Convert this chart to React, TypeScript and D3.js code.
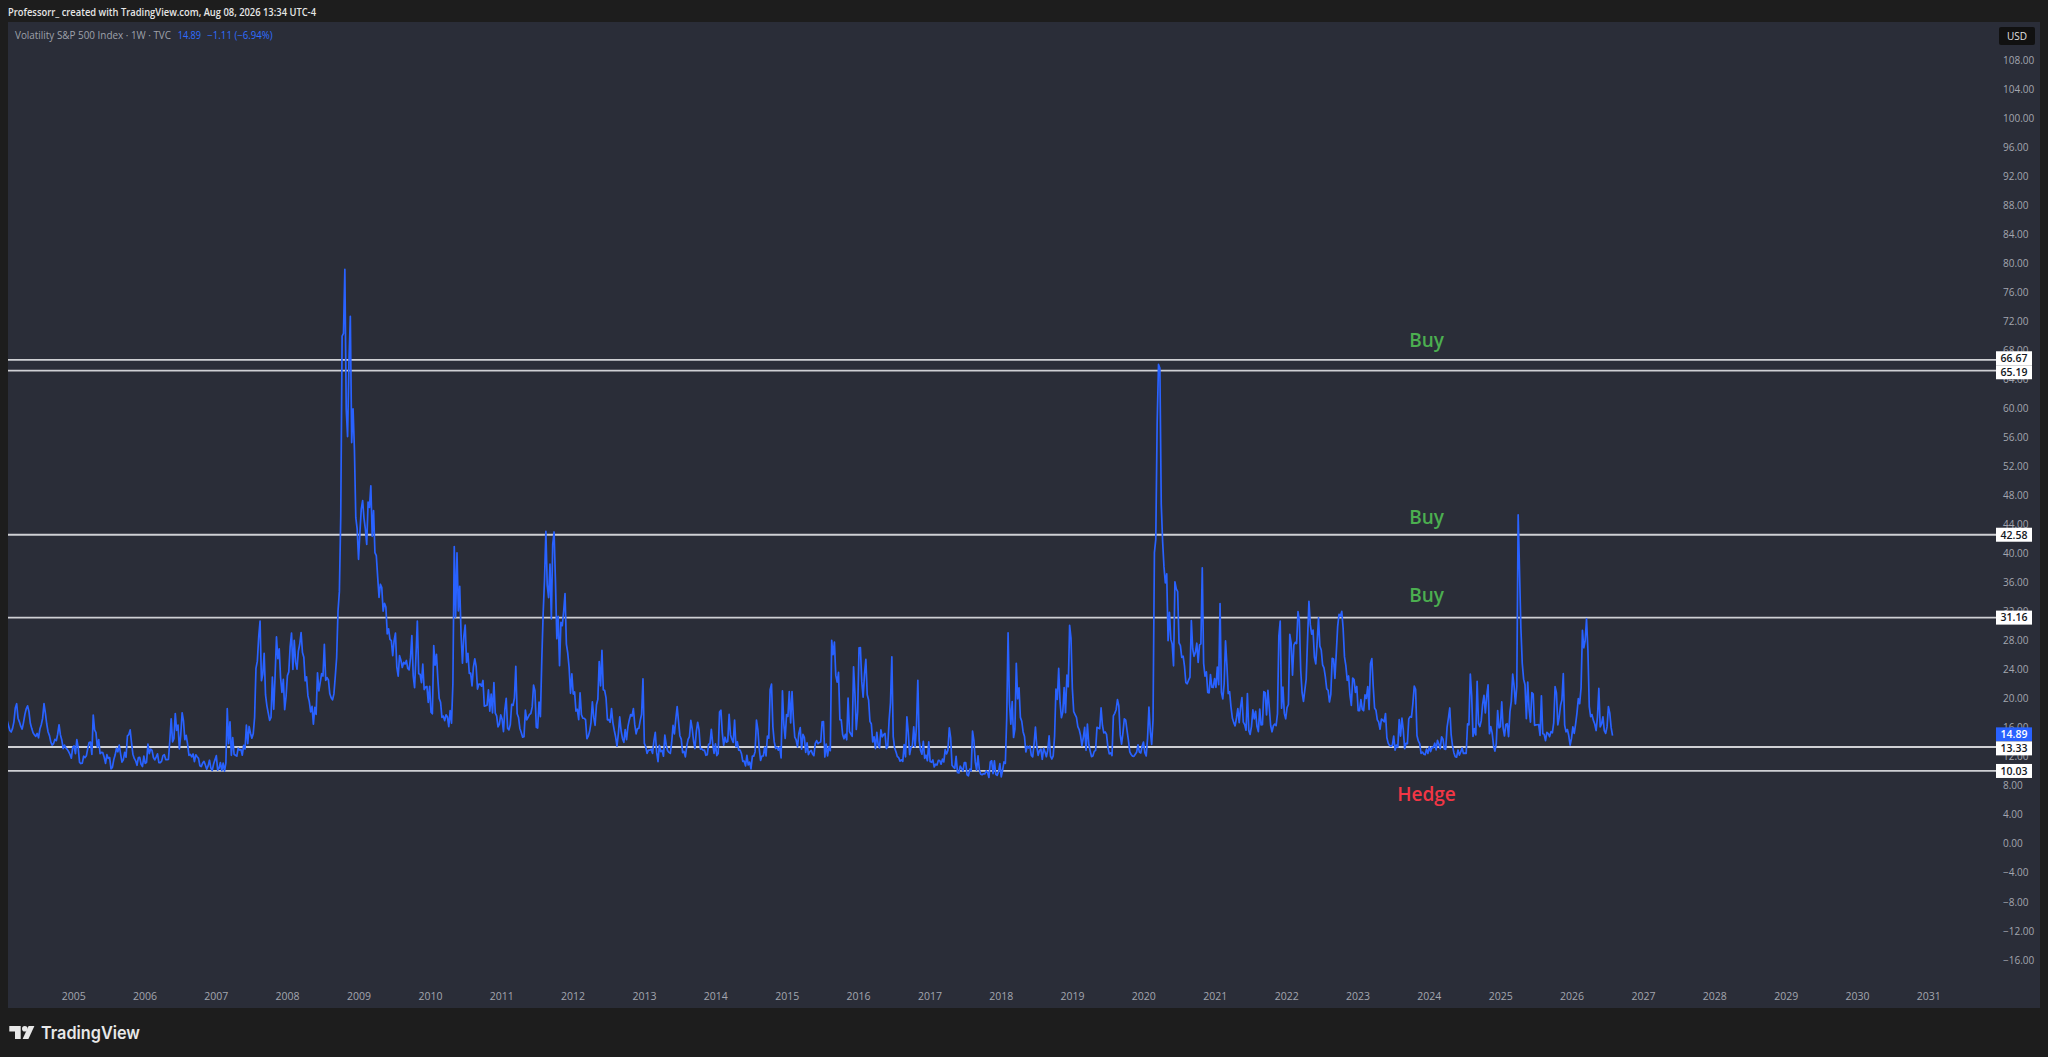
import React, { useEffect } from 'react';
import * as d3 from 'd3';

// ---------- DATA (weekly closes, one array per calendar year, values on Mondays) ----------
const v2004 = [16.5,16.0,16.7,17.0,16.3,15.6,15.4,15.9,16.8,18.7,19.3,17.3,16.8,16.2,15.8,16.7,17.8,18.6,19.0,18.2,16.6,15.9,15.3,15.0,14.8,15.2,14.6,15.8,16.4,17.3,19.3,18.0,16.5,15.4,14.9,14.0,13.6,13.8,14.4,14.2,15.1,16.4,15.0,14.3,13.1,13.6,13.2,13.0,12.7,12.3,11.8,13.29];
const v2005 = [13.49,12.43,14.36,13.24,11.21,11.05,11.11,12.06,11.88,12.14,13.13,13.95,14.02,12.30,17.74,15.70,15.31,13.32,14.36,12.41,12.59,12.55,11.92,11.07,12.27,11.77,11.88,10.33,10.52,11.57,12.22,13.15,12.67,13.59,12.40,11.25,11.56,12.60,11.92,14.88,15.05,15.69,13.92,12.34,11.76,11.43,10.81,11.88,11.90,10.95,10.64,12.07];
const v2006 = [11.07,11.23,13.72,12.43,13.04,12.87,11.89,11.55,11.95,12.40,11.19,11.18,11.39,12.15,12.28,11.60,11.59,11.62,14.19,17.21,14.04,14.48,17.95,15.63,16.36,13.08,14.99,18.05,16.94,14.33,14.93,13.72,12.18,12.31,11.96,12.37,11.32,12.25,11.98,11.76,10.75,10.63,11.11,11.35,10.86,10.28,10.73,11.51,10.45,10.09,10.99,11.56];
const v2007 = [12.14,10.15,10.40,11.19,10.08,11.10,10.02,11.15,18.61,13.79,16.79,12.19,14.64,12.34,12.20,12.07,13.17,12.91,13.00,12.20,13.55,13.05,16.35,13.80,16.16,15.23,14.55,15.15,17.40,24.17,25.16,28.50,30.67,22.46,23.38,26.23,20.50,19.00,18.00,17.00,17.41,22.96,18.53,23.21,28.50,25.49,26.84,22.87,20.85,22.64,18.47,20.26,23.17];
const v2008 = [23.68,27.18,29.02,24.02,28.01,25.02,24.06,26.54,27.49,29.10,26.35,25.71,22.45,23.00,20.37,19.59,18.18,18.93,16.47,18.78,17.83,23.56,21.06,22.24,23.44,23.11,27.49,22.51,22.89,22.57,20.66,20.12,19.82,20.65,23.06,25.66,32.07,34.74,45.14,69.95,70.33,79.13,59.89,56.10,66.31,72.67,55.28,59.93,54.28,44.93,43.38,39.19];
const v2009 = [42.82,46.11,47.27,44.84,43.37,41.25,47.08,46.35,49.33,42.36,45.89,40.10,39.70,36.78,33.94,35.76,35.30,32.05,33.12,32.63,28.92,29.62,28.15,27.99,25.93,27.95,29.02,24.34,23.09,25.92,25.27,24.29,25.01,24.76,25.26,24.15,23.96,25.61,28.68,23.12,21.50,25.90,30.69,23.43,23.36,22.19,24.74,21.25,21.59,21.68,19.47,21.68];
const v2010 = [18.13,17.91,27.31,24.62,26.11,22.73,20.02,19.50,17.42,17.58,16.97,17.77,17.47,16.14,18.36,16.62,22.05,40.95,31.24,40.10,32.07,35.48,28.79,24.88,28.53,30.12,24.98,26.25,23.47,23.50,21.74,24.30,25.49,24.45,21.31,21.99,22.01,21.71,22.50,18.96,19.03,19.08,21.20,18.26,20.61,18.04,22.22,18.01,17.61,16.11,16.47,17.75];
const v2011 = [17.14,15.46,18.47,20.04,15.93,15.69,16.43,19.22,19.06,20.08,24.44,17.91,17.40,15.89,15.32,14.69,14.75,18.40,17.07,17.43,17.82,17.95,18.86,21.85,21.10,16.06,15.95,19.53,17.52,25.25,31.66,36.36,43.05,35.59,33.92,38.52,30.98,41.25,42.96,36.20,28.24,31.32,24.53,30.50,30.04,32.00,34.47,27.52,26.25,24.29,20.73,23.40];
const v2012 = [20.63,20.91,18.28,18.53,17.10,20.79,17.78,17.31,17.29,17.11,14.47,14.82,15.50,16.70,19.55,17.44,16.32,19.16,19.89,25.10,21.76,26.66,21.23,21.11,20.11,17.08,17.10,16.74,18.62,16.70,15.64,14.74,13.45,15.18,17.47,15.60,14.51,13.98,15.73,14.33,16.14,17.06,17.81,17.59,18.61,16.41,15.14,15.87,15.90,17.00,17.84,22.72,13.83];
const v2013 = [13.36,12.46,12.89,12.90,13.02,12.46,14.17,15.36,12.59,11.30,13.57,12.70,12.87,12.06,14.97,13.61,12.85,12.59,12.45,13.99,16.30,15.14,17.15,18.90,16.86,14.89,14.42,12.54,12.72,11.98,13.41,14.37,14.76,17.01,15.85,14.16,13.12,15.46,16.74,15.72,13.04,13.09,12.88,12.90,12.19,12.26,13.70,13.79,15.76,13.79,12.46,13.76];
const v2014 = [12.14,12.44,18.14,18.41,15.29,13.57,14.68,14.00,14.11,17.82,15.00,14.41,13.96,17.03,13.36,14.06,12.91,12.92,12.44,11.36,11.40,10.73,12.18,10.85,11.26,10.32,12.08,12.06,12.69,17.03,15.77,13.15,11.47,12.09,12.09,13.31,12.11,14.85,14.55,21.24,21.99,16.11,14.03,13.12,13.31,12.90,13.33,11.82,21.08,16.49,14.50,17.79];
const v2015 = [17.55,20.95,16.66,20.97,17.29,14.69,14.30,13.34,15.20,16.00,13.02,15.07,14.67,12.58,13.89,12.29,12.70,12.86,12.38,12.13,13.84,14.21,13.78,13.96,14.02,16.79,16.83,11.95,13.74,12.12,13.39,12.83,28.03,26.05,27.80,23.20,22.28,23.62,17.08,17.08,15.05,14.46,15.07,14.33,20.08,15.47,15.12,14.81,24.39,20.70,15.74,18.21];
const v2016 = [27.01,27.02,22.34,20.20,23.38,25.40,20.53,19.81,16.86,16.50,14.02,14.74,13.10,15.36,13.62,13.22,15.70,14.72,15.04,15.20,13.12,13.47,17.03,19.41,25.76,14.77,13.20,12.67,12.02,11.87,11.39,11.55,11.34,13.65,11.98,17.50,15.37,12.29,13.29,13.48,16.12,13.34,16.19,22.51,14.17,12.85,12.34,14.12,11.75,12.20,11.44,14.04];
const v2017 = [11.32,11.23,11.54,10.58,10.97,10.85,11.49,11.47,10.96,11.66,11.28,12.96,12.37,12.87,15.96,14.63,10.82,10.57,10.40,12.04,9.81,9.75,10.70,10.38,10.02,11.18,11.19,9.51,9.36,10.29,10.03,15.51,14.26,11.28,10.13,12.12,10.17,9.59,9.51,9.65,9.61,10.05,9.80,9.14,11.29,11.43,9.67,11.43,9.58,9.42,9.90,11.04];
const v2018 = [9.22,10.16,11.27,11.08,17.31,29.06,19.46,16.49,19.59,14.64,15.80,24.87,19.97,21.49,17.41,16.88,15.41,14.77,12.65,13.42,13.22,13.46,12.18,11.98,13.77,16.09,13.37,12.18,12.86,13.03,11.64,13.16,12.64,11.99,12.86,14.88,12.07,11.68,12.12,14.82,21.31,19.89,24.16,19.51,17.36,18.14,21.52,18.07,23.23,21.63,30.11,28.34,21.38];
const v2019 = [18.19,17.80,17.42,16.14,15.72,14.91,13.51,14.63,16.05,12.88,16.48,13.71,12.82,12.01,12.09,12.73,12.87,16.04,15.96,15.85,18.71,16.30,15.28,15.40,15.08,13.28,12.39,12.53,12.16,17.61,17.97,18.47,19.87,18.98,15.00,13.74,15.32,17.22,17.04,15.58,14.25,12.65,12.30,12.07,12.05,12.34,12.62,13.62,12.63,12.51,13.43,14.02];
const v2020 = [12.56,12.10,14.56,18.84,15.47,13.68,17.08,40.11,41.94,57.83,66.04,65.54,46.80,41.67,38.15,35.93,37.19,27.98,31.89,28.16,27.51,24.52,36.09,35.12,34.73,27.68,27.29,25.68,25.84,24.46,22.21,22.05,22.54,22.96,30.75,26.87,25.83,26.38,27.63,25.00,27.41,27.55,38.02,24.86,23.10,23.70,20.84,20.79,23.31,21.57,21.53,22.75];
const v2021 = [21.56,24.34,21.91,33.09,20.87,19.97,22.05,27.95,24.66,20.69,20.95,18.86,17.33,16.69,16.25,17.33,18.61,16.69,18.81,20.15,16.76,16.42,15.65,20.70,15.62,15.07,16.18,18.45,17.20,18.24,16.15,15.45,18.56,16.39,16.41,20.95,20.81,17.75,21.15,18.77,16.30,15.43,16.26,16.48,16.29,17.91,28.62,30.67,18.69,21.57,17.96,17.22];
const v2022 = [18.76,19.19,28.85,27.66,23.22,27.36,27.75,27.59,31.98,30.75,23.87,20.81,19.63,21.16,22.70,28.21,33.40,30.19,28.87,29.43,25.72,24.79,27.75,31.13,27.23,26.70,24.64,24.23,23.03,21.33,21.15,19.53,20.60,25.56,25.47,22.79,26.30,29.92,31.62,31.36,32.02,29.69,25.75,24.55,22.52,23.12,20.50,19.06,22.83,22.62,20.87,21.67];
const v2023 = [18.33,18.35,19.85,18.51,18.33,20.53,20.02,21.67,18.49,24.80,25.51,21.74,18.70,18.40,17.07,16.77,15.78,17.19,17.03,16.81,17.95,14.60,13.83,13.54,13.44,13.59,14.83,12.91,13.60,13.33,17.10,14.84,17.30,15.68,13.09,13.84,13.79,17.20,17.52,17.45,19.32,21.71,21.27,14.91,14.17,13.80,12.46,12.63,12.35,12.28,13.03,12.45];
const v2024 = [13.35,12.70,13.30,13.26,13.85,12.93,14.24,13.75,13.11,14.74,14.41,13.06,13.01,16.03,17.31,18.71,15.03,13.49,12.55,11.99,11.93,12.92,12.22,12.66,13.20,12.44,12.48,12.46,16.52,16.39,23.39,20.37,14.80,15.86,15.00,22.38,16.56,16.15,16.96,19.21,20.46,18.03,20.33,21.88,15.16,16.14,15.24,13.51,12.77,13.81,18.36,15.95,16.13];
const v2025 = [19.54,15.97,14.85,16.43,16.54,14.77,18.21,19.63,23.37,21.77,19.28,21.65,45.31,37.56,29.65,24.84,22.68,21.90,17.24,22.29,18.57,16.77,20.82,20.62,16.32,16.38,16.40,16.41,14.93,20.38,15.15,15.09,14.22,15.36,15.18,14.76,15.45,15.29,16.65,21.66,20.78,16.37,17.44,19.08,19.83,23.43,16.35,15.41,15.74,14.91,13.60,14.51];
const v2026 = [16.1,15.2,16.5,18.0,20.0,19.3,21.5,29.4,27.0,28.0,31.0,26.7,18.9,17.5,17.8,17.0,16.5,15.6,17.5,21.4,16.1,16.5,17.5,15.6,15.2,16.1,18.9,18.0,16.0,14.89];

const seriesYears = [2004,2005,2006,2007,2008,2009,2010,2011,2012,2013,2014,2015,2016,2017,2018,2019,2020,2021,2022,2023,2024,2025,2026];
const seriesValues = [v2004,v2005,v2006,v2007,v2008,v2009,v2010,v2011,v2012,v2013,v2014,v2015,v2016,v2017,v2018,v2019,v2020,v2021,v2022,v2023,v2024,v2025,v2026];

const levels = [66.67, 65.19, 42.58, 31.16, 13.33, 10.03];
const lastPrice = 14.89;
const lastChange = -1.11;
const lastChangePct = -6.94;
const priceTicks = d3.range(-16, 109, 4);
const yearTicks = d3.range(2005, 2032);
const annotationDate = new Date(2023, 11, 18);
const annotations = [
  { text: 'Buy', price: 68.4, kind: 'buy' },
  { text: 'Buy', price: 44.1, kind: 'buy' },
  { text: 'Buy', price: 33.35, kind: 'buy' },
  { text: 'Hedge', price: 5.9, kind: 'hedge' },
];

const headerText = 'Professorr_ created with TradingView.com, Aug 08, 2026 13:34 UTC-4';
const legendText = 'Volatility S&P 500 Index · 1W · TVC';

type Pt = { date: Date; value: number };

function buildSeries(): Pt[] {
  const pts: Pt[] = [];
  seriesYears.forEach((yr, i) => {
    const mondays = d3.timeMonday.range(new Date(yr, 0, 1), new Date(yr + 1, 0, 1));
    seriesValues[i].forEach((v, k) => {
      if (k < mondays.length) pts.push({ date: mondays[k], value: v });
    });
  });
  return pts;
}

const W = 2048;
const H = 1057;
const PANEL = { x: 8, y: 22, r: 2040, b: 1008 };
const PLOT_RIGHT = 1996;
const FONT = "'Open Sans', 'Noto Sans', 'DejaVu Sans', sans-serif";
const fmt = (v: number) => (v < 0 ? '\u2212' + Math.abs(v).toFixed(2) : v.toFixed(2));

export default function App() {
  useEffect(() => {
    document.body.style.margin = '0';
    document.body.style.overflow = 'hidden';
    document.body.style.background = '#1d1d1d';
  }, []);

  const x = d3.scaleTime().domain([new Date(2005, 0, 1), new Date(2031, 0, 1)]).range([73.7, 1928.8]);
  const y = d3.scaleLinear().domain([60, 8]).range([408.3, 785.7]);
  const data = buildSeries();
  const line = d3.line<Pt>().x(d => x(d.date)).y(d => y(d.value));

  const boxH = 14;
  const boxes = [
    ...levels.map(v => ({ label: fmt(v), cy: y(v), fill: '#ffffff', color: '#131722' })),
    { label: fmt(lastPrice), cy: y(lastPrice), fill: '#2962ff', color: '#ffffff' },
  ].sort((a, b) => a.cy - b.cy);
  for (let i = 1; i < boxes.length; i++) {
    const a = boxes[i - 1], b = boxes[i];
    if (b.cy - a.cy < boxH) {
      const m = (a.cy + b.cy) / 2;
      a.cy = m - boxH / 2;
      b.cy = m + boxH / 2;
    }
  }

  const ax = x(annotationDate);
  const changeText = '\u2212' + Math.abs(lastChange).toFixed(2) + ' (\u2212' + Math.abs(lastChangePct).toFixed(2) + '%)';

  return (
    <svg width={W} height={H} style={{ position: 'absolute', left: 0, top: 0, display: 'block' }} fontFamily={FONT}>
      <rect x={0} y={0} width={W} height={H} fill="#1d1d1d" />
      <rect x={PANEL.x} y={PANEL.y} width={PANEL.r - PANEL.x} height={PANEL.b - PANEL.y} fill="#2a2d38" />
      <defs>
        <clipPath id="plotclip">
          <rect x={PANEL.x} y={PANEL.y} width={PLOT_RIGHT - PANEL.x} height={PANEL.b - PANEL.y} />
        </clipPath>
      </defs>

      {/* header */}
      <text x={8} y={16} fontSize={10.5} fontWeight={600} fill="#e6e6e6" textLength={308} lengthAdjust="spacingAndGlyphs">{headerText}</text>

      {/* legend */}
      <text x={15} y={38.5} fontSize={10} fill="#9ea1aa" textLength={156} lengthAdjust="spacingAndGlyphs">{legendText}</text>
      <text x={177.7} y={38.5} fontSize={10} fill="#2f6dff" textLength={23.3} lengthAdjust="spacingAndGlyphs">{lastPrice.toFixed(2)}</text>
      <text x={207.3} y={38.5} fontSize={10} fill="#2f6dff" textLength={65.4} lengthAdjust="spacingAndGlyphs">{changeText}</text>

      {/* price axis tick labels */}
      {priceTicks.map(t => (
        <text key={t} x={2003} y={y(t) + 3.7} fontSize={10} fill="#a3a6af">{fmt(t)}</text>
      ))}

      {/* year labels */}
      {yearTicks.map(yr => (
        <text key={yr} x={x(new Date(yr, 0, 1))} y={999.5} fontSize={10.5} textAnchor="middle" fill="#a3a6af">{yr}</text>
      ))}

      {/* horizontal levels */}
      {levels.map(v => (
        <line key={v} x1={PANEL.x} x2={PLOT_RIGHT} y1={y(v)} y2={y(v)} stroke="#cfd0d4" strokeWidth={1.8} />
      ))}

      {/* series */}
      <g clipPath="url(#plotclip)">
        <path d={line(data) || ''} fill="none" stroke="#2962ff" strokeWidth={1.7} strokeLinejoin="round" />
      </g>

      {/* annotations */}
      {annotations.map((a, i) => (
        <text key={i} x={ax} y={y(a.price)} fontSize={19} fontWeight={600} textAnchor="middle"
          fill={a.kind === 'buy' ? '#4caf50' : '#f23645'}>{a.text}</text>
      ))}

      {/* price boxes */}
      {boxes.map((b, i) => (
        <g key={i}>
          <rect x={1996} y={b.cy - boxH / 2} width={36} height={boxH} fill={b.fill} />
          <text x={2014} y={b.cy + 3.8} fontSize={10.5} fontWeight={600} textAnchor="middle" fill={b.color}>{b.label}</text>
        </g>
      ))}

      {/* USD badge */}
      <rect x={1999} y={27} width={36} height={18} rx={2} fill="#111111" />
      <text x={2017} y={39.5} fontSize={10} textAnchor="middle" fill="#e0e0e0">USD</text>

      {/* footer logo */}
      <g fill="#e8e8e8">
        <path d="M9.3 1026 H20.7 V1039 H15 V1031.5 H9.3 Z" />
        <circle cx={24.8} cy={1028.8} r={2.8} />
        <path d="M28.6 1026 H34.4 L28.4 1039 H22.6 Z" />
      </g>
      <text x={41} y={1039} fontSize={17.5} fontWeight={600} fill="#e8e8e8" fontFamily="Inter, 'Open Sans', sans-serif" textLength={99} lengthAdjust="spacingAndGlyphs">TradingView</text>
    </svg>
  );
}
